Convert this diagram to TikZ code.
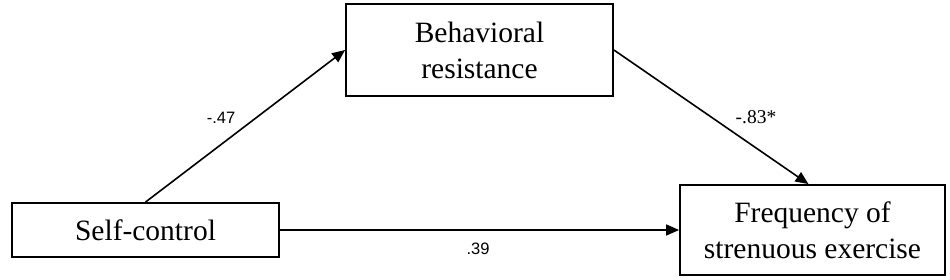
\documentclass[tikz,border=0pt]{standalone}
\usepackage{fontspec}
\setmainfont{Liberation Serif}
\newfontfamily\lsans{Liberation Sans}
\usetikzlibrary{arrows.meta,calc}
\begin{document}
\begin{tikzpicture}[x=1pt,y=-1pt,
  box/.style={draw,line width=1.8pt,rectangle,align=center,inner sep=0pt,
    font=\fontsize{29.5}{36}\selectfont},
  conn/.style={line width=1.6pt,-{Triangle[length=13pt,width=11pt]}},
  lbl/.style={font=\lsans\fontsize{16.5}{19}\selectfont,inner sep=0pt}]
\useasboundingbox[fill=white] (0,0) rectangle (950,280);
\node[box,minimum width=267pt,minimum height=92pt] (beh) at (479.5,50) {Behavioral\\resistance};
\node[box,minimum width=267pt,minimum height=54pt] (self) at (145.5,230) {Self-control};
\node[box,minimum width=265pt,minimum height=90pt] (freq) at (812.5,230) {Frequency of\\strenuous exercise};
\draw[conn] (self.north) -- (beh.west);
\draw[conn] (beh.east) -- ($(freq.north)+(-4,0)$);
\draw[conn] (self.east) -- (freq.west);
\node[lbl] (l1) at (221,118) {-.47};
\node[lbl,font=\fontsize{19.5}{22}\selectfont] (l2) at (756,117) {-.83*};
\node[lbl] (l3) at (478,249) {.39};
\end{tikzpicture}
\end{document}
